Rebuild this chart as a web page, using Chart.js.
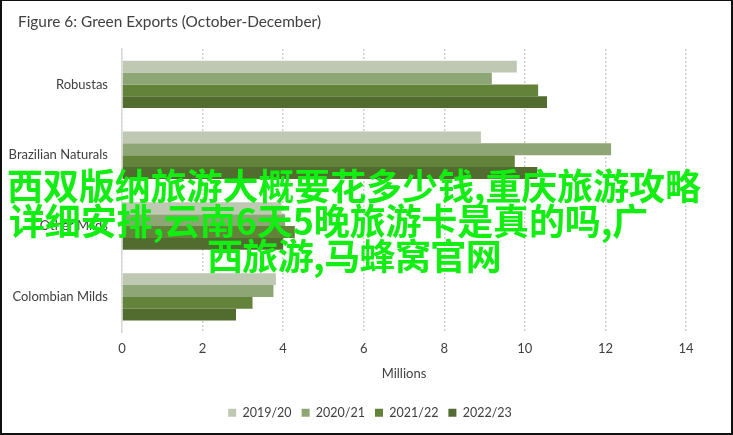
<!DOCTYPE html>
<html>
<head>
<meta charset="utf-8">
<script src="https://cdn.jsdelivr.net/npm/chart.js@4.4.1/dist/chart.umd.min.js"></script>
<style>
  html, body { margin: 0; padding: 0; background: #fff; }
  #wrap { position: relative; width: 733px; height: 435px; overflow: hidden; }
  #wrap canvas { position: absolute; left: 0; top: 0; }
  #frame { position: absolute; left: 0; top: 0; width: 733px; height: 435px;
           box-sizing: border-box; border: 2px solid #111; border-top-width: 1px; pointer-events: none; }
  .banner { position: absolute; white-space: nowrap; color: #12ee12;
            font-family: "Noto Sans CJK SC", sans-serif; font-weight: 700;
            font-size: 36px; line-height: 35px; pointer-events: none; }
</style>
</head>
<body>
<div id="wrap">
  <canvas id="chart" width="733" height="435"></canvas>
  <div class="banner" data-w="694" style="left:7px; top:167px;">西双版纳旅游大概要花多少钱,重庆旅游攻略</div>
  <div class="banner" data-w="639" style="left:9px; top:202px;">详细安排,云南6天5晚旅游卡是真的吗,广</div>
  <div class="banner" data-w="294" style="left:207px; top:237px;">西旅游,马蜂窝官网</div>
  <div id="frame"></div>
</div>
<script>
// Green coffee exports, October–December, in millions of bags
const categories = ['Robustas', 'Brazilian Naturals', 'Other Milds', 'Colombian Milds'];
const seasons = ['2019/20', '2020/21', '2021/22', '2022/23'];
const exports2019 = [9.80, 8.91, 3.96, 3.82];
const exports2020 = [9.18, 12.14, 4.05, 3.76];
const exports2021 = [10.33, 9.75, 4.29, 3.24];
const exports2022 = [10.55, 10.31, 4.00, 2.83];
const xTicks = [0, 2, 4, 6, 8, 10, 12, 14];

const seasonColors = ['#bec8b3', '#8ea676', '#63823a', '#526c30'];
const seriesValues = [exports2019, exports2020, exports2021, exports2022];

const textColor = '#404040';
const baseFont = 'Lato, "Open Sans", sans-serif';

// fit each banner line to its set width by spreading the letters
document.querySelectorAll('.banner').forEach(el => {
  const target = parseFloat(el.dataset.w);
  const n = [...el.textContent].length;
  const natural = el.getBoundingClientRect().width;
  el.style.letterSpacing = ((target - natural) / n).toFixed(2) + 'px';
});

// nudges the title and the centred legend row sideways
const boxShift = {
  id: 'boxShift',
  afterLayout(chart, args, opts) {
    const lg = chart.legend;
    if (lg) { lg.left += opts.legendDx; lg.right += opts.legendDx; }
    const tt = chart.titleBlock;
    if (tt) { tt.left += opts.titleDx; tt.right += opts.titleDx; }
  }
};

new Chart(document.getElementById('chart'), {
  type: 'bar',
  data: {
    labels: categories,
    datasets: seasons.map((s, i) => ({
      label: s,
      data: seriesValues[i],
      backgroundColor: seasonColors[i],
      borderWidth: 0,
      barPercentage: 1.0,
      categoryPercentage: 0.67
    }))
  },
  options: {
    indexAxis: 'y',
    responsive: false,
    animation: false,
    devicePixelRatio: 1,
    layout: { padding: { left: 0, right: 47, top: 8, bottom: 6 } },
    plugins: {
      title: {
        display: true,
        text: 'Figure 6: Green Exports (October-December)',
        align: 'start',
        color: textColor,
        font: { family: baseFont, size: 15.4, weight: 'normal' },
        padding: { top: 4.5, bottom: 18 }
      },
      legend: {
        position: 'bottom',
        labels: {
          boxWidth: 8,
          boxHeight: 8,
          padding: 10,
          color: textColor,
          font: { family: baseFont, size: 12.5 }
        }
      },
      boxShift: { legendDx: 27, titleDx: 18 },
      tooltip: { enabled: false }
    },
    scales: {
      x: {
        min: 0,
        max: 14,
        afterBuildTicks(scale) { scale.ticks = xTicks.map(v => ({ value: v })); },
        grid: { color: '#cfcfcf', lineWidth: 1.5, drawTicks: false },
        border: { display: false, dash: [2, 2] },
        ticks: { color: textColor, padding: 9, font: { family: baseFont, size: 13 } },
        title: {
          display: true,
          text: 'Millions',
          color: textColor,
          font: { family: baseFont, size: 13 },
          padding: { top: 0, bottom: 15 }
        }
      },
      y: {
        afterFit(scale) { scale.width = 122; },
        grid: { display: false, drawTicks: false },
        border: { display: true, color: '#d9d9d9', width: 1.5 },
        ticks: { color: textColor, padding: 14, font: { family: baseFont, size: 13 } }
      }
    }
  },
  plugins: [boxShift]
});
</script>
</body>
</html>
